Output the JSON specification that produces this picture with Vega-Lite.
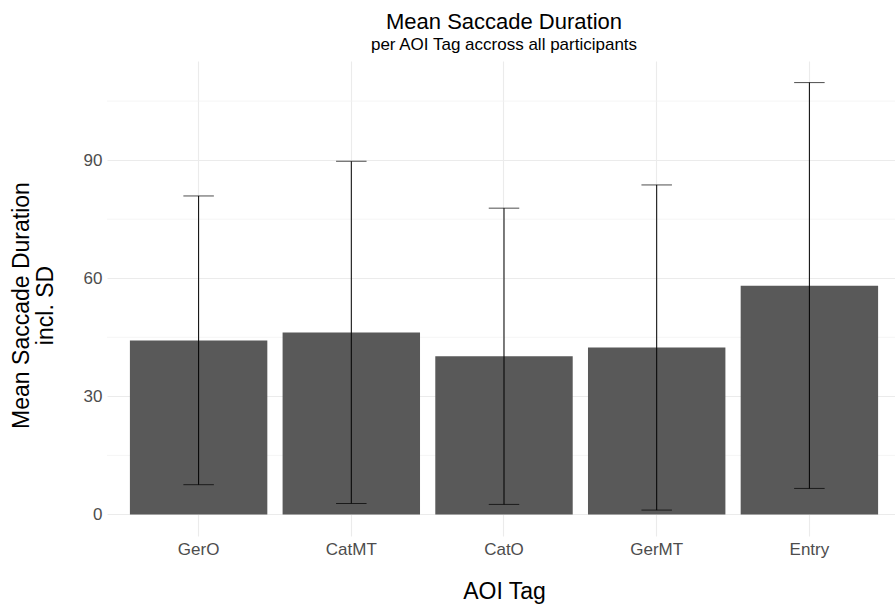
{
  "$schema": "https://vega.github.io/schema/vega-lite/v6.json",
  "width": 794,
  "height": 475,
  "autosize": "none",
  "padding": {"left": 107, "top": 61, "right": 0, "bottom": 69},
  "background": "white",
  "config": {
    "font": "Liberation Sans",
    "view": {"stroke": null},
    "axis": {"domain": false, "ticks": false, "grid": true, "gridColor": "#EBEBEB", "gridWidth": 1.1, "labelColor": "#4D4D4D", "labelFont": "Liberation Sans", "titleFont": "Liberation Sans", "titleColor": "#000000", "titleFontWeight": "normal"}
  },
  "title": {
    "text": "Mean Saccade Duration",
    "subtitle": "per AOI Tag accross all participants",
    "anchor": "middle",
    "fontSize": 22,
    "fontWeight": "normal",
    "color": "#000000",
    "subtitleFontSize": 17,
    "subtitleColor": "#000000",
    "subtitlePadding": 3,
    "offset": 7
  },
  "data": {
    "values": [
      {"tag": "GerO", "mean": 44.2, "lo": 7.55, "hi": 80.9},
      {"tag": "CatMT", "mean": 46.2, "lo": 2.8, "hi": 89.7},
      {"tag": "CatO", "mean": 40.2, "lo": 2.54, "hi": 77.8},
      {"tag": "GerMT", "mean": 42.4, "lo": 1.1, "hi": 83.7},
      {"tag": "Entry", "mean": 58.1, "lo": 6.6, "hi": 109.7}
    ]
  },
  "encoding": {
    "x": {
      "field": "tag",
      "type": "nominal",
      "sort": null,
      "scale": {"paddingInner": 0.1, "paddingOuter": 0.15},
      "axis": {"title": "AOI Tag", "labelAngle": 0, "labelFontSize": 17, "labelPadding": 5, "titleFontSize": 23, "titlePadding": 23}
    }
  },
  "layer": [
    {
      "data": {"values": [{"v": 15}, {"v": 45}, {"v": 75}, {"v": 105}]},
      "mark": {"type": "rule", "color": "#F3F3F3", "strokeWidth": 0.8},
      "encoding": {"x": null, "y": {"field": "v", "type": "quantitative"}}
    },
    {
      "mark": {"type": "bar", "color": "#595959"},
      "encoding": {
        "y": {
          "field": "mean",
          "type": "quantitative",
          "scale": {"domain": [-5.485, 115.185], "nice": false, "zero": false},
          "axis": {"title": ["Mean Saccade Duration", "incl. SD"], "values": [0, 30, 60, 90], "labelFontSize": 17, "labelPadding": 5, "titleFontSize": 23, "titlePadding": 26, "titleLineHeight": 24, "titleY": 244}
        },
        "y2": {"datum": 0}
      }
    },
    {
      "mark": {"type": "rule", "color": "#000000", "strokeWidth": 1},
      "encoding": {"y": {"field": "lo", "type": "quantitative"}, "y2": {"field": "hi"}}
    },
    {
      "mark": {"type": "tick", "color": "#000000", "thickness": 1, "size": 30.5},
      "encoding": {"y": {"field": "lo", "type": "quantitative"}}
    },
    {
      "mark": {"type": "tick", "color": "#000000", "thickness": 1, "size": 30.5},
      "encoding": {"y": {"field": "hi", "type": "quantitative"}}
    }
  ]
}
